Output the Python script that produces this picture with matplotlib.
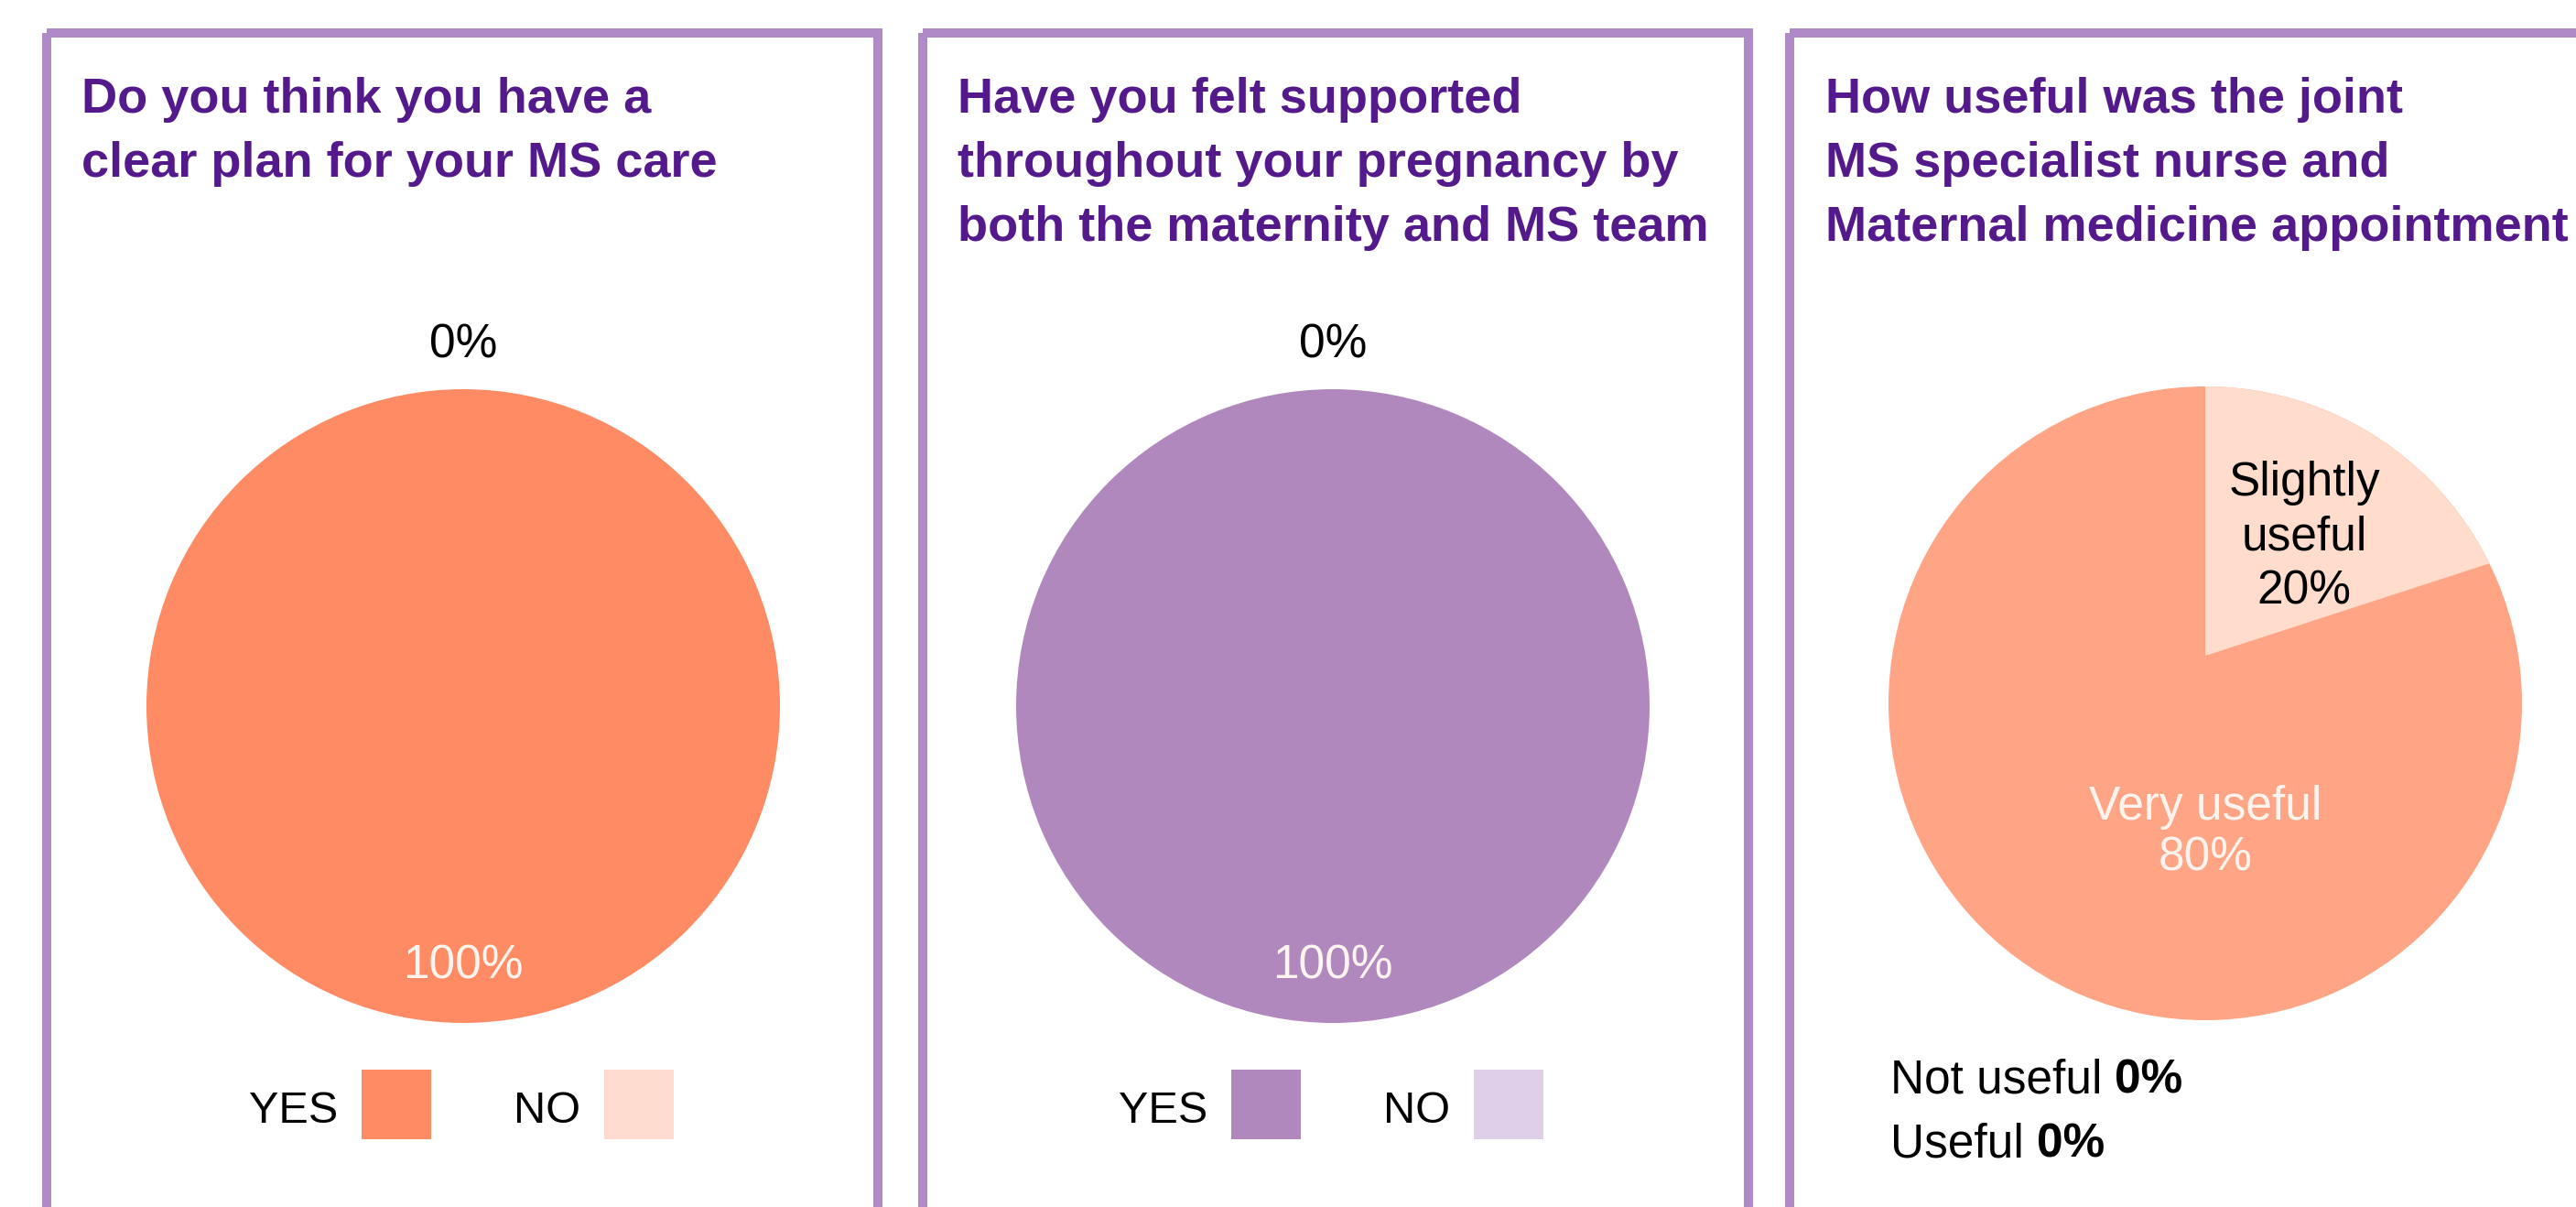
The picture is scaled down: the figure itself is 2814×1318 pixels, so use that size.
import matplotlib
matplotlib.use("Agg")
import numpy as np
import matplotlib.pyplot as plt
from matplotlib.patches import Rectangle, Circle

# dados
titulo1 = ["Do you think you have a", "clear plan for your MS care"]
titulo2 = ["Have you felt supported", "throughout your pregnancy by", "both the maternity and MS team"]
titulo3 = ["How useful was the joint", "MS specialist nurse and", "Maternal medicine appointment"]

respostas = ["YES", "NO"]
plano = [100, 0]
apoio = [100, 0]

utilidade_rotulos = ["Very useful", "Slightly useful", "Not useful", "Useful"]
utilidade = [80, 20, 0, 0]

# cores
roxo_titulo = "#541a8b"
roxo_borda = "#b08ac6"
cores_plano = ["#fe8b63", "#ffdccf"]
cores_apoio = ["#b088bd", "#e0cfe8"]
cores_util = ["#ffa585", "#ffdccc"]
branco = "#fff4ee"

W, H = 2814, 1318
fonte = ["Liberation Sans", "DejaVu Sans"]

fig = plt.figure(figsize=(W / 100, H / 100), dpi=100)
fig.patch.set_facecolor("white")

# eixo de fundo em pixels
bg = fig.add_axes([0, 0, 1, 1])
bg.set_xlim(0, W)
bg.set_ylim(H, 0)
bg.axis("off")

# molduras dos tres paineis
for x0, x1 in [(51, 959), (1008, 1910), (1955, 2870)]:
    bg.add_patch(Rectangle((x0, 36), x1 - x0, 1400, fill=False,
                           edgecolor=roxo_borda, linewidth=7.2, clip_on=False))

# titulos
for tx, linhas in [(89, titulo1), (1046, titulo2), (1994, titulo3)]:
    for i, linha in enumerate(linhas):
        bg.text(tx, 123 + 70 * i, linha, color=roxo_titulo, fontsize=39,
                fontweight="bold", family=fonte, ha="left", va="baseline")


def eixo_pizza(cx, cy, r):
    ax = fig.add_axes([(cx - r) / W, 1 - (cy + r) / H, 2 * r / W, 2 * r / H])
    return ax


def pizza_sim_nao(cx, cy, r, valores, cores):
    ax = eixo_pizza(cx, cy, r)
    fatias, _ = ax.pie(valores, colors=cores, startangle=90, counterclock=False,
                       wedgeprops=dict(linewidth=0))
    ax.set_xlim(-1, 1)
    ax.set_ylim(-1, 1)
    ax.set_aspect("equal")
    for f, v in zip(fatias, valores):
        ang = np.deg2rad((f.theta1 + f.theta2) / 2)
        if v == 0:
            d, cor = 1.14, "black"
        else:
            d, cor = 0.82, branco
        ax.text(d * np.cos(ang), d * np.sin(ang), f"{v}%", ha="center", va="center",
                fontsize=37, color=cor, family=fonte)
    # legenda
    for i, (nome, cor) in enumerate(zip(respostas, cores)):
        bg.text(cx - 234 + 289 * i, 1226, nome, fontsize=35, family=fonte,
                ha="left", va="baseline", color="black")
        bg.add_patch(Rectangle((cx - 111 + 265 * i, 1168), 76, 76, facecolor=cor,
                               edgecolor="none"))


pizza_sim_nao(506, 771, 346, plano, cores_plano)
pizza_sim_nao(1456, 771, 346, apoio, cores_apoio)

# terceiro painel
cx, cy, r = 2409, 768, 346
ax3 = eixo_pizza(cx, cy, r)
fatias, _ = ax3.pie(utilidade[:2][::-1], colors=cores_util[::-1], startangle=90,
                    counterclock=False, wedgeprops=dict(linewidth=0))
ax3.set_xlim(-1, 1)
ax3.set_ylim(-1, 1)
ax3.set_aspect("equal")
# no original a ponta da fatia menor fica um pouco acima do centro
leve, grande = fatias
grande.set_theta1(grande.theta2 - 360)
grande.set_zorder(1)
leve.set_zorder(2)
leve.set_center((0, 0.15))
leve.set_radius(1.6)
leve.set_clip_on(True)
leve.set_clip_path(Circle((0, 0), 1, transform=ax3.transData))

for i, linha in enumerate(["Slightly", "useful", f"{utilidade[1]}%"]):
    ax3.text(0.313, 0.655 - 0.17 * i, linha, ha="center", va="baseline",
             fontsize=37, family=fonte, color="black", zorder=3)
for i, linha in enumerate([utilidade_rotulos[0], f"{utilidade[0]}%"]):
    ax3.text(0, -0.368 - 0.16 * i, linha, ha="center", va="baseline",
             fontsize=37, family=fonte, color=branco, zorder=3)

for i, (nome, v) in enumerate(zip(utilidade_rotulos[2:], utilidade[2:])):
    t = bg.text(2065, 1193 + 70 * i, nome, fontsize=37, family=fonte,
                ha="left", va="baseline", color="black")
    bg.annotate(f"{v}%", xy=(1, 0), xycoords=t, xytext=(10, 0),
                textcoords="offset points", fontsize=37, family=fonte,
                fontweight="bold", ha="left", va="bottom", color="black")

fig.savefig("out.png", dpi=100)
